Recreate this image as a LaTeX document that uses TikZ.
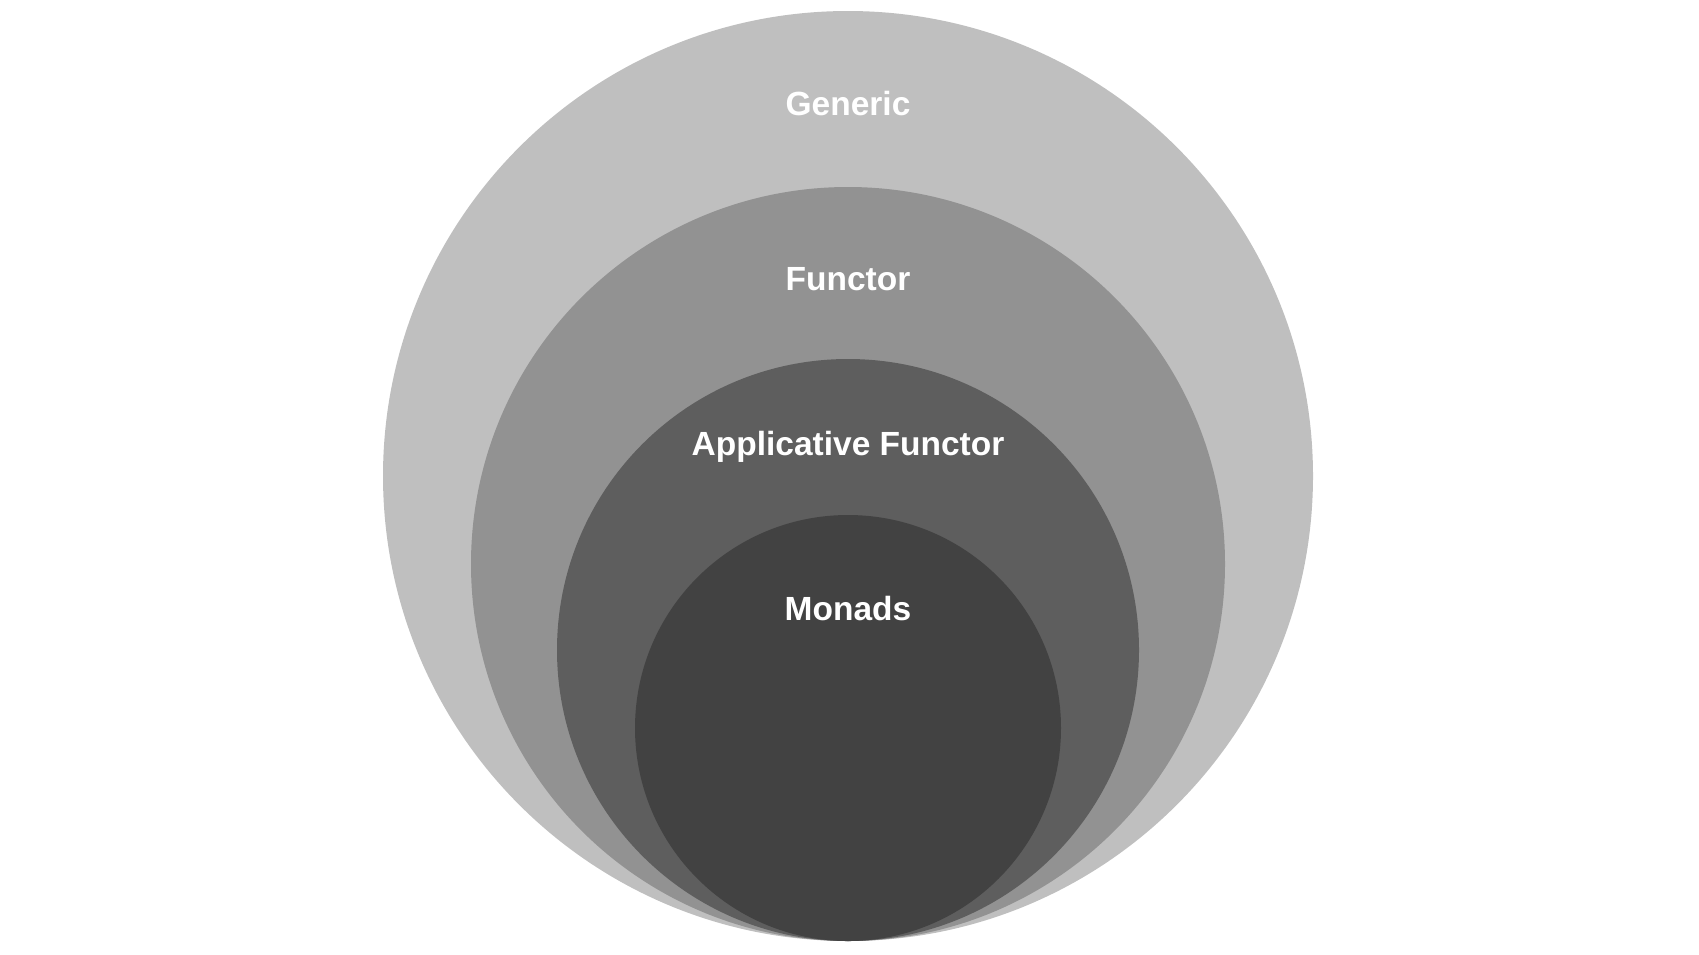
\documentclass[tikz,border=0pt]{standalone}
\usepackage{fontspec}
\setmainfont{Liberation Sans}
\definecolor{cGeneric}{RGB}{191,191,191}
\definecolor{cFunctor}{RGB}{146,146,146}
\definecolor{cApp}{RGB}{94,94,94}
\definecolor{cMonad}{RGB}{66,66,66}
\tikzset{
  ring/.style={circle, inner sep=0pt, outer sep=0pt, draw=none},
  lbl/.style={text=white, font=\fontsize{33.5}{37}\selectfont\bfseries, inner sep=0pt, anchor=center}
}
\begin{document}
\begin{tikzpicture}[x=1pt,y=-1pt]
\useasboundingbox (0,0) rectangle (1699,954);
\node[ring, fill=cGeneric, minimum size=930pt] (generic) at (848,476) {};
\node[ring, fill=cFunctor, minimum size=754pt] (functor) at (848,564) {};
\node[ring, fill=cApp, minimum size=582pt] (app) at (848,650) {};
\node[ring, fill=cMonad, minimum size=426pt] (monads) at (848,728) {};
\node[lbl] (tGeneric) at (848,104) {Generic};
\node[lbl] (tFunctor) at (848,279) {Functor};
\node[lbl] (tApp) at (848,447) {Applicative Functor};
\node[lbl] (tMonads) at (848,609) {Monads};
\end{tikzpicture}
\end{document}
